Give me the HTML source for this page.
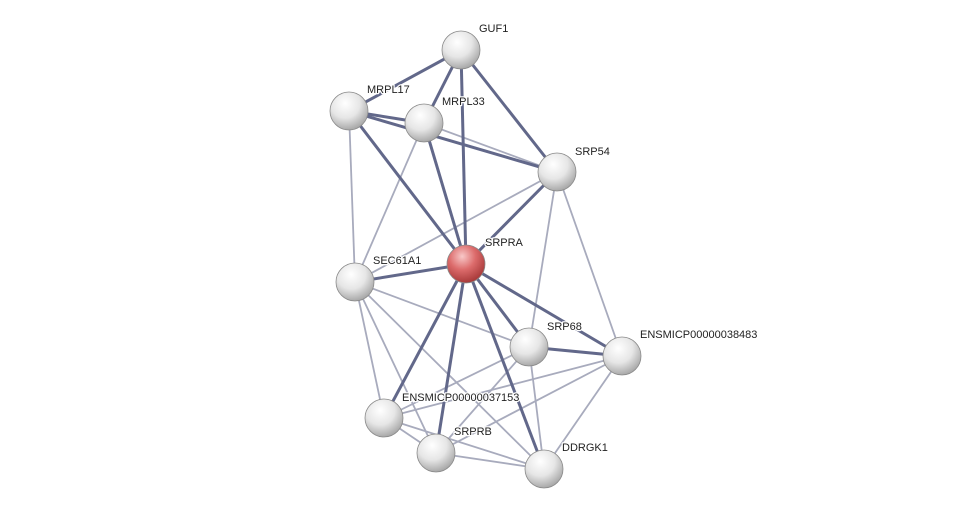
<!DOCTYPE html>
<html><head><meta charset="utf-8"><style>
html,body{margin:0;padding:0;background:#fff;}
svg{display:block;}
text{font-family:"Liberation Sans",sans-serif;font-size:11px;fill:#222;stroke:#fff;stroke-width:2.5px;paint-order:stroke;stroke-linejoin:round;}
</style></head><body>
<svg width="975" height="514" viewBox="0 0 975 514" xmlns="http://www.w3.org/2000/svg">
<defs>
<radialGradient id="g" cx="40%" cy="30%" r="70%">
<stop offset="0" stop-color="#ffffff"/><stop offset="0.55" stop-color="#e6e6e6"/><stop offset="1" stop-color="#a9a9a9"/>
</radialGradient>
<radialGradient id="r" cx="40%" cy="30%" r="70%">
<stop offset="0" stop-color="#f8c8c8"/><stop offset="0.5" stop-color="#dc6b6b"/><stop offset="1" stop-color="#a83a3a"/>
</radialGradient>
</defs>
<g stroke="#a8abbd" stroke-width="1.8" fill="none">
<line x1="349" y1="111" x2="355" y2="282"/>
<line x1="424" y1="123" x2="355" y2="282"/>
<line x1="557" y1="172" x2="355" y2="282"/>
<line x1="557" y1="172" x2="529" y2="347"/>
<line x1="557" y1="172" x2="622" y2="356"/>
<line x1="355" y1="282" x2="529" y2="347"/>
<line x1="355" y1="282" x2="384" y2="418"/>
<line x1="355" y1="282" x2="436" y2="453"/>
<line x1="355" y1="282" x2="544" y2="469"/>
<line x1="529" y1="347" x2="384" y2="418"/>
<line x1="529" y1="347" x2="436" y2="453"/>
<line x1="529" y1="347" x2="544" y2="469"/>
<line x1="622" y1="356" x2="384" y2="418"/>
<line x1="622" y1="356" x2="436" y2="453"/>
<line x1="622" y1="356" x2="544" y2="469"/>
<line x1="384" y1="418" x2="436" y2="453"/>
<line x1="384" y1="418" x2="544" y2="469"/>
<line x1="436" y1="453" x2="544" y2="469"/>
<line x1="424" y1="123" x2="557" y2="172"/>
</g>
<g stroke="#62688a" stroke-width="3" fill="none">
<line x1="461" y1="50" x2="349" y2="111"/>
<line x1="461" y1="50" x2="424" y2="123"/>
<line x1="461" y1="50" x2="466" y2="264"/>
<line x1="461" y1="50" x2="557" y2="172"/>
<line x1="349" y1="111" x2="424" y2="123"/>
<line x1="349" y1="111" x2="557" y2="172"/>
<line x1="349" y1="111" x2="466" y2="264"/>
<line x1="424" y1="123" x2="466" y2="264"/>
<line x1="557" y1="172" x2="466" y2="264"/>
<line x1="466" y1="264" x2="355" y2="282"/>
<line x1="466" y1="264" x2="529" y2="347"/>
<line x1="466" y1="264" x2="622" y2="356"/>
<line x1="466" y1="264" x2="384" y2="418"/>
<line x1="466" y1="264" x2="436" y2="453"/>
<line x1="466" y1="264" x2="544" y2="469"/>
<line x1="529" y1="347" x2="622" y2="356"/>
</g>
<g stroke="#8a8a8a" stroke-width="0.8">
<circle cx="461" cy="50" r="19" fill="url(#g)"/>
<circle cx="349" cy="111" r="19" fill="url(#g)"/>
<circle cx="424" cy="123" r="19" fill="url(#g)"/>
<circle cx="557" cy="172" r="19" fill="url(#g)"/>
<circle cx="466" cy="264" r="19" fill="url(#r)"/>
<circle cx="355" cy="282" r="19" fill="url(#g)"/>
<circle cx="529" cy="347" r="19" fill="url(#g)"/>
<circle cx="622" cy="356" r="19" fill="url(#g)"/>
<circle cx="384" cy="418" r="19" fill="url(#g)"/>
<circle cx="436" cy="453" r="19" fill="url(#g)"/>
<circle cx="544" cy="469" r="19" fill="url(#g)"/>
</g>
<text x="479" y="32">GUF1</text>
<text x="367" y="93">MRPL17</text>
<text x="442" y="105">MRPL33</text>
<text x="575" y="155">SRP54</text>
<text x="485" y="246">SRPRA</text>
<text x="373" y="264">SEC61A1</text>
<text x="547" y="330">SRP68</text>
<text x="640" y="338">ENSMICP00000038483</text>
<text x="402" y="401">ENSMICP00000037153</text>
<text x="454" y="435">SRPRB</text>
<text x="562" y="451">DDRGK1</text>
</svg>
</body></html>
